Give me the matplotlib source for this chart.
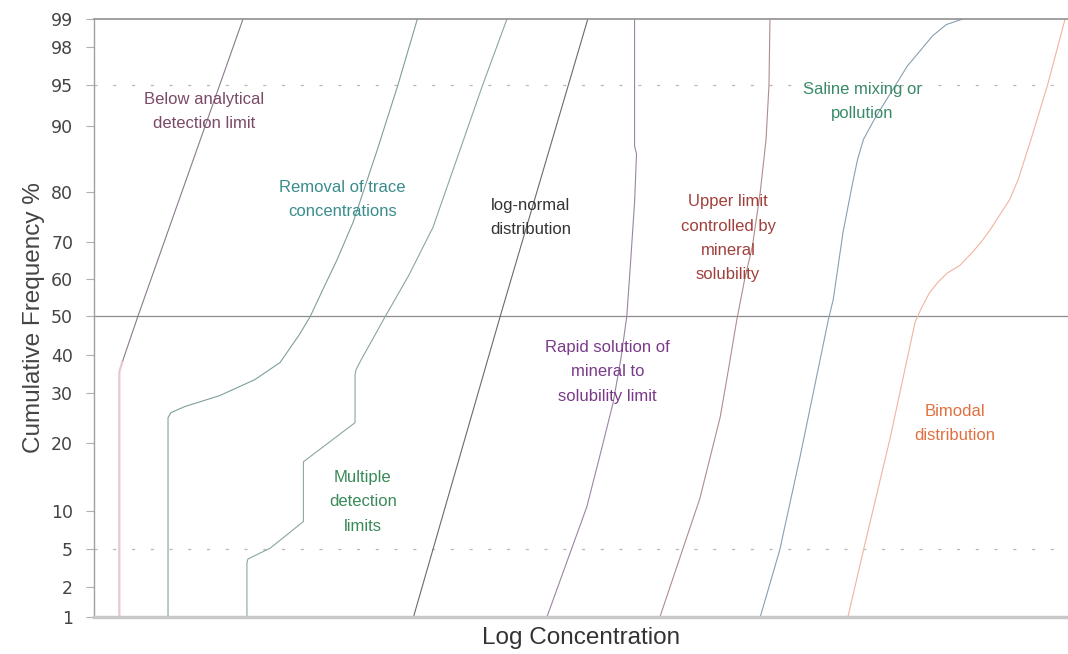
import numpy as np
import matplotlib
matplotlib.use("Agg")
import matplotlib.pyplot as plt

# ---- probability-style y axis (tick percent -> relative position)
tick_pct = [1, 2, 5, 10, 20, 30, 40, 50, 60, 70, 80, 90, 95, 98, 99]
tick_pos = [0, 30, 68, 106, 174, 224, 262, 300, 337, 374, 424, 490, 531, 569, 597]
tick_labels = [str(t) for t in tick_pct]

# ---- curves: x = log concentration (arbitrary units 0-100), y = cumulative frequency %
below_x = [15.3, 4.5, 2.9, 2.6, 2.6]
below_y = [99, 50, 38, 35.5, 1]

removal_x = [33.2, 31.2, 29.1, 26.6, 24.9, 23.5, 22.2, 21.1, 19.1, 16.5, 12.9, 9.3, 7.9, 7.6, 7.6]
removal_y = [99, 95, 86.5, 74, 65, 57.3, 50, 45.3, 37.9, 33.4, 29.4, 27.2, 26.0, 25.0, 1]

multiple_x = [42.4, 39.9, 37.6, 34.8, 32.3, 29.9, 28.6, 27.4, 26.9, 26.8, 26.8, 21.5, 21.5, 18.1, 15.8, 15.7, 15.7]
multiple_y = [99, 95, 86.5, 73, 61, 50, 44, 38.5, 36, 34.7, 24, 17.2, 8.6, 5.1, 4.2, 3.9, 1]

lognormal_x = [50.7, 41.7, 32.8]
lognormal_y = [99, 50, 1]

rapid_x = [55.5, 55.5, 55.7, 55.5, 55.1, 54.7, 54.1, 53.3, 52.1, 50.6, 46.5]
rapid_y = [99, 87, 85.8, 78, 65, 50, 39, 28, 19, 10.6, 1]

upper_x = [69.4, 69.3, 69.0, 68.4, 67.6, 66.8, 66.0, 65.2, 64.3, 62.2, 58.1]
upper_y = [99, 95, 88, 80, 69, 60, 49.2, 37, 25.2, 11.8, 1]

saline_x = [89.2, 87.5, 86.1, 84.7, 83.5, 82.3, 81.4, 80.1, 79.0, 78.4, 77.9, 76.9, 75.9, 75.4, 72.5, 70.4, 68.4]
saline_y = [99, 98.8, 98.4, 97.6, 96.5, 95.0, 93.3, 90.8, 88, 85, 81.5, 72, 54.6, 49.2, 18, 4.9, 1]

bimodal_x = [99.7, 97.9, 96.2, 94.9, 94.0, 93.0, 92.0, 91.0, 90.0, 88.9, 87.6, 86.7, 85.8, 84.9, 84.3, 81.7, 79.0, 77.4]
bimodal_y = [99, 95, 88, 82, 78.5, 75.5, 72.5, 69.8, 66.8, 63.8, 61.7, 59.4, 56.5, 52, 48.5, 20.6, 4.9, 1]

# ---- annotation texts
labels = [
    ("Below analytical\ndetection limit", 11.3, 91.8, "#7a4a68"),
    ("Removal of trace\nconcentrations", 25.5, 78.6, "#3a8c8c"),
    ("log-normal\ndistribution", 44.8, 75.0, "#333333"),
    ("Upper limit\ncontrolled by\nmineral\nsolubility", 65.1, 70.8, "#a0403c"),
    ("Saline mixing or\npollution", 78.9, 93.0, "#3a8a68"),
    ("Rapid solution of\nmineral to\nsolubility limit", 52.7, 35.5, "#7a3a8a"),
    ("Multiple\ndetection\nlimits", 27.6, 11.3, "#3a8a58"),
    ("Bimodal\ndistribution", 88.4, 23.8, "#e07040"),
]


def fwd(p):
    return np.interp(p, tick_pct, tick_pos)


def inv(v):
    return np.interp(v, tick_pos, tick_pct)


plt.rcParams['font.family'] = ['Liberation Sans', 'DejaVu Sans']

fig = plt.figure(figsize=(10.68, 6.54), dpi=100)
ax = fig.add_axes([94 / 1068, 1 - 617 / 654, 1 - 94 / 1068, (617 - 19) / 654])
ax.set_yscale('function', functions=(fwd, inv))
ax.set_ylim(1, 99)
ax.set_xlim(0, 100)

# reference lines
ax.axhline(50, color="#8c8c8c", lw=0.9, zorder=1)
for lvl in (5, 95):
    ax.axhline(lvl, color="#b8b8b8", lw=0.9, ls=(0, (2.5, 12.5)), zorder=1)

lw = 0.8
ax.plot(below_x[:3], below_y[:3], color="#8a7a8c", lw=lw)
ax.plot(below_x[2:], below_y[2:], color="#e4c8d4", lw=1.6)
ax.plot(removal_x, removal_y, color="#7e9e9e", lw=lw)
ax.plot(multiple_x, multiple_y, color="#8aa898", lw=lw)
ax.plot(lognormal_x, lognormal_y, color="#6a6a6a", lw=lw)
ax.plot(rapid_x, rapid_y, color="#9a86a0", lw=lw)
ax.plot(upper_x, upper_y, color="#b08c8c", lw=lw)
ax.plot(saline_x, saline_y, color="#88a0b0", lw=lw)
ax.plot(bimodal_x, bimodal_y, color="#f0b4a0", lw=lw)

for txt, x, y, c in labels:
    ax.text(x, y, txt, color=c, ha="center", va="center", fontsize=12,
            linespacing=1.78)

ax.set_yticks(tick_pct)
ax.set_yticklabels(tick_labels)
ax.set_xticks([])
ax.minorticks_off()
ax.tick_params(axis='y', direction='out', length=6, width=0.8, color="#b0b0b0",
               labelsize=12.5, labelcolor="#444444", pad=9)
for lab in ax.get_yticklabels():
    lab.set_fontfamily('DejaVu Sans')

ax.spines['right'].set_visible(False)
ax.spines['left'].set_color("#a0a0a0")
ax.spines['left'].set_linewidth(1.0)
ax.spines['top'].set_color("#909090")
ax.spines['top'].set_linewidth(1.2)
ax.spines['bottom'].set_color("#c8c8c8")
ax.spines['bottom'].set_linewidth(2.5)

ax.set_xlabel("Log Concentration", fontsize=17.5, color="#333333", labelpad=7)
ax.set_ylabel("Cumulative Frequency %", fontsize=17.5, color="#444444", labelpad=4)

fig.savefig("out.png", dpi=100, facecolor="white")
